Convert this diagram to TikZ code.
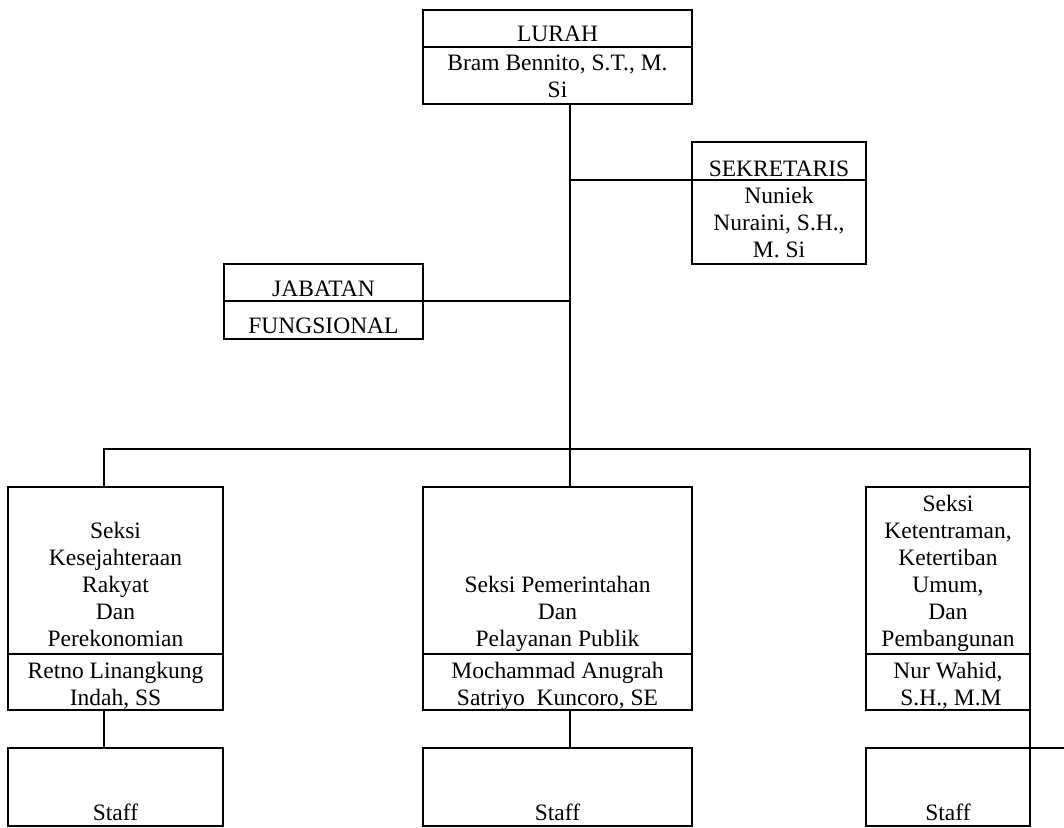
\documentclass[tikz,border=0pt]{standalone}
\usepackage{fontspec}
\setmainfont{Liberation Serif}
\begin{document}
\begin{tikzpicture}[x=1pt,y=-1pt,
  box/.style={draw, line width=1.5pt, rectangle, inner sep=0pt, outer sep=0pt, anchor=north west},
  ln/.style={line width=1.5pt},
  txt/.style={anchor=north, inner sep=0pt, align=center, font=\fontsize{23.5}{27}\selectfont}]
\useasboundingbox (0,0) rectangle (1064,827);
% boxes
\node[box, minimum width=269pt, minimum height=94pt]  (lurah) at (423,10) {};
\node[box, minimum width=174pt, minimum height=122pt] (sek)   at (692,142) {};
\node[box, minimum width=199pt, minimum height=75pt]  (jab)   at (224,264) {};
\node[box, minimum width=215pt, minimum height=223pt] (left)  at (8,487) {};
\node[box, minimum width=269pt, minimum height=223pt] (mid)   at (423,487) {};
\node[box, minimum width=164pt, minimum height=223pt] (right) at (866,487) {};
\node[box, minimum width=215pt, minimum height=78pt]  (lstaff) at (8,748) {};
\node[box, minimum width=269pt, minimum height=78pt]  (mstaff) at (423,748) {};
\node[box, minimum width=164pt, minimum height=78pt]  (rstaff) at (866,748) {};
% dividers
\draw[ln] (lurah.west |- 0,47) -- (lurah.east |- 0,47);
\draw[ln] (sek.west |- 0,180) -- (sek.east |- 0,180);
\draw[ln] (jab.west |- 0,301) -- (jab.east |- 0,301);
\draw[ln] (left.west |- 0,654) -- (left.east |- 0,654);
\draw[ln] (mid.west |- 0,654) -- (mid.east |- 0,654);
\draw[ln] (right.west |- 0,654) -- (right.east |- 0,654);
% connector coordinates
\coordinate (busm) at (570,449);
\coordinate (busl) at (104,449);
\coordinate (busr) at (1030,449);
\coordinate (sekjoin) at (692,180);
\coordinate (jabjoin) at (423,301);
\coordinate (stubend) at (1064,748);
% connectors
\draw[ln] (lurah.south -| busm) -- (busm);
\draw[ln] (sekjoin) -- (sekjoin -| busm);
\draw[ln] (jabjoin) -- (jabjoin -| busm);
\draw[ln] (left.north -| busl) -- (busl) -- (busr) -- (rstaff.north east);
\draw[ln] (busm) -- (mid.north -| busm);
\draw[ln] (left.south -| busl) -- (lstaff.north -| busl);
\draw[ln] (mid.south -| busm) -- (mstaff.north -| busm);
\draw[ln] (rstaff.north east) -- (stubend);
% texts
\node[txt] (tlurah) at (557.5,22.1) {\strut LURAH};
\node[txt] (tbram)  at (557.5,51.1) {\strut Bram Bennito, S.T., M.\\Si};
\node[txt] (tsek)   at (779,157.1) {\strut SEKRETARIS};
\node[txt] (tnun)   at (779,184.1) {\strut Nuniek\\Nuraini, S.H.,\\M. Si};
\node[txt] (tjab)   at (323.5,277.1) {\strut JABATAN};
\node[txt] (tfung)  at (323.5,314.1) {\strut FUNGSIONAL};
\node[txt] (tleft)  at (115.5,519.6) {\strut Seksi\\Kesejahteraan\\Rakyat\\Dan\\Perekonomian};
\node[txt] (tretno) at (115.5,659.6) {\strut Retno Linangkung\\Indah, SS};
\node[txt] (tmid)   at (557.5,573.6) {\strut Seksi Pemerintahan\\Dan\\Pelayanan Publik};
\node[txt] (tmoch)  at (557.5,659.6) {\strut Mochammad Anugrah\\Satriyo\ \ Kuncoro, SE};
\node[txt] (tright) at (948,492.6) {\strut Seksi\\Ketentraman,\\Ketertiban\\Umum,\\Dan\\Pembangunan};
\node[txt] (tnur)   at (948,659.6) {\strut Nur Wahid,\\\mbox{}\ S.H., M.M};
\node[txt] (ts1) at (115.5,801.1) {\strut Staff};
\node[txt] (ts2) at (557.5,801.1) {\strut Staff};
\node[txt] (ts3) at (948,801.1) {\strut Staff};
\end{tikzpicture}
\end{document}
